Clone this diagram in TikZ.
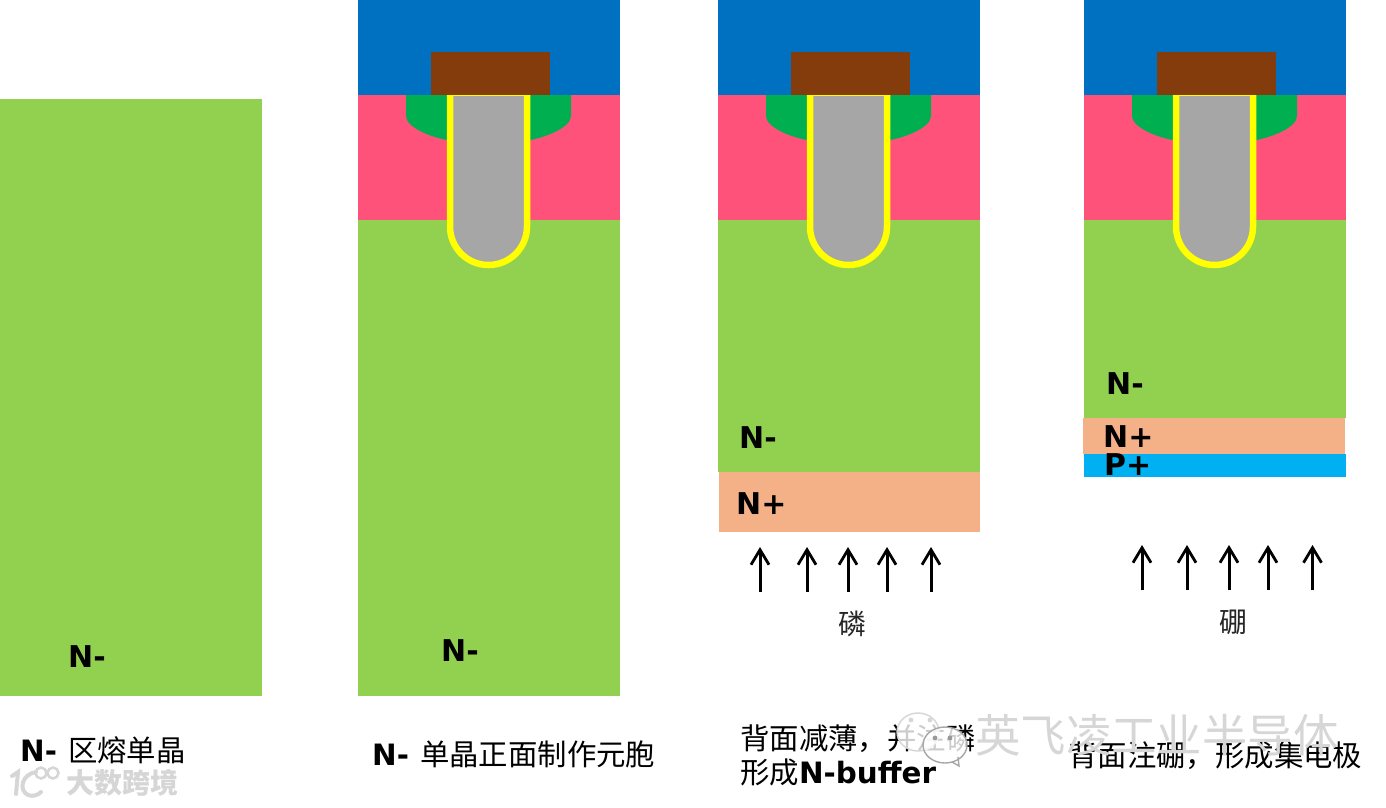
\documentclass[tikz,border=0pt]{standalone}
\usepackage{fontspec}
\setmainfont{DejaVu Sans}
\newfontfamily\cjk{Noto Sans CJK SC}
\usetikzlibrary{arrows.meta}
\definecolor{drift}{RGB}{146,208,80}
\definecolor{metal}{RGB}{0,112,192}
\definecolor{polyb}{RGB}{132,60,12}
\definecolor{pbody}{RGB}{255,82,122}
\definecolor{nwell}{RGB}{0,176,80}
\definecolor{trenchg}{RGB}{166,166,166}
\definecolor{trenchy}{RGB}{255,255,0}
\definecolor{nplus}{RGB}{244,177,136}
\definecolor{pplus}{RGB}{0,176,240}
\definecolor{wm}{RGB}{214,214,214}
\tikzset{
  lab/.style={font=\fontsize{30}{34}\selectfont\bfseries,text=black,inner sep=0pt,anchor=base west},
  captxt/.style={font=\fontsize{29.4}{34}\selectfont,text=black,inner sep=0pt,anchor=base west},
  smalltxt/.style={font=\fontsize{28}{32}\selectfont\cjk,text=black!85,inner sep=0pt,anchor=center},
  markone/.style={font=\fontsize{45.4}{50}\selectfont\cjk,text=wm,inner sep=0pt,anchor=base west},
  marktwo/.style={font=\fontsize{28}{32}\selectfont\cjk\bfseries,text=wm,inner sep=0pt,anchor=base west},
  implant/.style={draw=black,line width=3pt,-{Straight Barb[length=15pt,width=18pt,line width=2.8pt]}}
}
\newcommand{\frontcell}[2]{%
\begin{scope}[shift={(#1,0)}]
  \fill[metal] (358,0) rectangle (620,95);
  \fill[polyb] (431,52) rectangle (550,95);
  \fill[pbody] (358,95) rectangle (620,220);
  \fill[drift] (358,220) rectangle (620,#2);
  \fill[nwell] (406,95) -- (406,116) .. controls (406,127) and (430,137) .. (447,140)
     -- (530,140) .. controls (547,137) and (571,127) .. (571,116) -- (571,95) -- cycle;
  \fill[trenchg] (450,95) -- (450,226.5) .. controls (450,247.8) and (467.2,265) .. (488.5,265)
     .. controls (509.8,265) and (527,247.8) .. (527,226.5) -- (527,95) -- cycle;
  \draw[trenchy,line width=6.5pt] (450,95) -- (450,226.5) .. controls (450,247.8) and (467.2,265) .. (488.5,265)
     .. controls (509.8,265) and (527,247.8) .. (527,226.5) -- (527,95);
  \draw[trenchy,line width=1pt] (447,95.5) -- (530,95.5);
\end{scope}}
\begin{document}
\begin{tikzpicture}[x=1pt,y=-1pt]
\useasboundingbox (0,0) rectangle (1386,807);
\fill[white] (0,0) rectangle (1386,807);
% wafer 1
\fill[drift] (0,99) rectangle (262,696);
% cells
\frontcell{0}{696}
\frontcell{360}{472}
\frontcell{726}{418}
\fill[nplus] (719,472) rectangle (980,532);
\fill[nplus] (1083,418) rectangle (1345,454);
\fill[pplus] (1083.5,454) rectangle (1346,477);
% labels
\node[lab] (n1) at (68,667) {N-};
\node[lab] (n2) at (441,661) {N-};
\node[lab] (n3) at (739,448) {N-};
\node[lab] (n3p) at (736,514) {N+};
\node[lab] (n4) at (1106,394) {N-};
\node[lab] (n4p) at (1103,447) {N+};
\node[lab] (p4p) at (1104,475) {P+};
% arrows
\foreach \i/\x in {1/760,2/807,3/848,4/887,5/931}{
  \coordinate (a\i) at (\x,592); \coordinate (b\i) at (\x,547);
  \draw[implant] (a\i) -- (b\i);
}
\foreach \i/\x in {1/1142,2/1187,3/1229,4/1268,5/1312.5}{
  \coordinate (c\i) at (\x,590); \coordinate (d\i) at (\x,545);
  \draw[implant] (c\i) -- (d\i);
}
\node[smalltxt] (phos) at (852,624) {磷};
\node[smalltxt] (boron) at (1233,622) {硼};
% captions
\node[captxt] (t1) at (20,761) {\textbf{N-}\hspace{11pt}{\cjk 区熔单晶}};
\node[captxt] (t2) at (372,765) {\textbf{N-}\hspace{11pt}{\cjk 单晶正面制作元胞}};
\node[captxt] (t3a) at (740,749) {\cjk 背面减薄，并注磷};
\node[captxt] (t3b) at (740,783) {{\cjk 形成}\textbf{N-buffer}};
\node[captxt] (t4) at (1068,766) {\cjk 背面注硼，形成集电极};
% watermarks
\fill[white,opacity=.8] (918,732) ellipse (21pt and 19pt);
\draw[wm,line width=1.4pt] (918,732) ellipse (21pt and 19pt);
\fill[white,opacity=.8] (945,745) ellipse (22pt and 18pt);
\draw[gray!70,line width=1.4pt] (945,745) ellipse (22pt and 18pt);
\draw[gray!70,line width=1.4pt] (952,762) -- (959,766) -- (958,757);
\fill[gray!80] (935,738) circle (2.4pt) (950,738) circle (2.4pt);
\fill[wm] (911,720) circle (2.4pt) (930,720) circle (2.4pt);
\node[markone] (w1) at (975,752) {英飞凌工业半导体};
\node[marktwo] (w2) at (66,793) {大数跨境};
\draw[wm,line width=4pt,line cap=round] (12,776) -- (18,772) -- (16,794);
\draw[wm,line width=4pt,line cap=round] (36,772) .. controls (22,774) and (18,790) .. (28,795) .. controls (33,797) and (38,795) .. (41,792);
\draw[wm,line width=2.5pt] (41,773) circle (5.5pt) (53,773) circle (5.5pt);
\end{tikzpicture}
\end{document}
